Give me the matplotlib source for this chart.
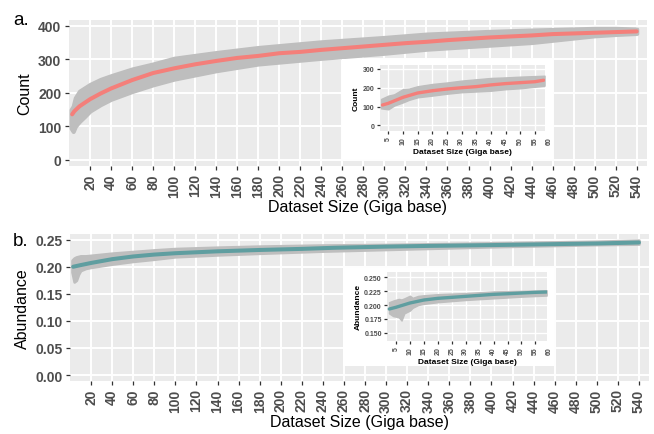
import matplotlib
matplotlib.use("Agg")
import matplotlib.pyplot as plt

plt.rcParams['font.family'] = ['Liberation Sans', 'DejaVu Sans']

# ---------------- data ----------------
# Panel a: Count vs dataset size
a_line_x = [3, 5, 10, 20, 30, 40, 60, 80, 100, 120, 140, 160, 180, 200, 220, 240, 260, 280,
            300, 320, 340, 360, 380, 400, 420, 440, 460, 480, 500, 520, 540]
a_line_y = [136, 145, 160, 181, 198, 213, 238, 259, 273, 285, 295, 304, 310, 318, 322, 328, 333, 338,
            343, 348, 352, 357, 361, 365, 368, 371, 375, 377, 379, 381, 383]
a_band_x = [2, 4, 6, 8, 10, 15, 20, 30, 40, 60, 80, 100, 140, 180, 240, 300, 340, 400, 440, 500, 520, 540]
a_band_hi = [150, 160, 185, 195, 205, 215, 225, 240, 251, 271, 286, 303, 320, 335, 352, 365, 375, 383,
             387, 392, 392, 390]
a_band_lo = [95, 85, 100, 108, 115, 130, 146, 165, 181, 204, 224, 241, 266, 286, 303, 318, 330, 342,
             350, 370, 374, 377]

# Panel a inset (0-60 Gb)
ai_line_x = [3, 5, 10, 15, 20, 25, 30, 35, 40, 45, 50, 55, 58]
ai_line_y = [108, 117, 149, 172, 184, 193, 200, 206, 215, 222, 227, 232, 240]
ai_band_x = [2.5, 5, 7, 10, 12, 15, 20, 25, 30, 35, 40, 45, 50, 55, 58.3]
ai_band_hi = [140, 158, 165, 193, 195, 208, 220, 228, 238, 245, 252, 255, 259, 262, 264]
ai_band_lo = [90, 85, 105, 122, 135, 149, 158, 168, 176, 180, 184, 192, 197, 205, 211]

# Panel b: Abundance vs dataset size
b_line_x = [3, 10, 20, 40, 60, 80, 100, 140, 180, 220, 250, 300, 340, 400, 460, 500, 540]
b_line_y = [0.200, 0.203, 0.207, 0.214, 0.219, 0.2225, 0.225, 0.2285, 0.231, 0.233, 0.235, 0.2372,
            0.2385, 0.240, 0.2418, 0.243, 0.2448]
b_band_x = [2, 4, 6, 8, 10, 15, 20, 30, 40, 60, 80, 100, 140, 180, 240, 300, 400, 500, 540]
b_band_hi = [0.212, 0.216, 0.218, 0.219, 0.220, 0.220, 0.221, 0.223, 0.225, 0.228, 0.231, 0.2335,
             0.236, 0.238, 0.240, 0.241, 0.244, 0.247, 0.249]
b_band_lo = [0.190, 0.172, 0.175, 0.186, 0.193, 0.197, 0.199, 0.202, 0.205, 0.210, 0.214, 0.2185,
             0.222, 0.225, 0.229, 0.232, 0.237, 0.241, 0.242]

# Panel b inset (0-60 Gb)
bi_line_x = [2.6, 5, 10, 15, 20, 25, 30, 35, 40, 45, 50, 55, 59]
bi_line_y = [0.1928, 0.1959, 0.2036, 0.209, 0.212, 0.2138, 0.2156, 0.2174, 0.2192, 0.2203, 0.2216,
             0.2228, 0.2234]
bi_band_x = [2.5, 4, 6, 7, 8, 10, 11, 13, 15, 20, 30, 40, 50, 59]
bi_band_hi = [0.205, 0.208, 0.211, 0.210, 0.212, 0.2168, 0.213, 0.2165, 0.2175, 0.2195, 0.2215,
              0.2245, 0.2255, 0.2265]
bi_band_lo = [0.185, 0.180, 0.178, 0.172, 0.185, 0.190, 0.195, 0.200, 0.202, 0.205, 0.209, 0.212,
              0.215, 0.217]

main_xticks = list(range(20, 541, 20))
inset_xticks = list(range(5, 61, 5))
a_yticks = [0, 100, 200, 300, 400]
ai_yticks = [0, 100, 200, 300]
b_yticks = [0.00, 0.05, 0.10, 0.15, 0.20, 0.25]
bi_yticks = [0.150, 0.175, 0.200, 0.225, 0.250]

x_title = "Dataset Size (Giga base)"

# ---------------- layout ----------------
W, H = 654, 435
fig = plt.figure(figsize=(W / 100, H / 100), dpi=100)


def box(l, t, r, b):
    return [l / W, 1 - b / H, (r - l) / W, (b - t) / H]


PANEL = "#EBEBEB"
POINTS = "#BEBEBE"
TICKC = "#4D4D4D"
RED = "#F47F7A"
TEAL = "#5F9EA0"


def style(ax, xlim, ylim, xticks, yticks, ylabels, fs, lab_fs, ylab, tick_len, gridw, inset=False):
    ax.set_facecolor(PANEL)
    for s in ax.spines.values():
        s.set_visible(False)
    ax.set_xlim(*xlim)
    ax.set_ylim(*ylim)
    vis_x = [t for t in xticks if xlim[0] <= t <= xlim[1]]
    ax.set_xticks(vis_x)
    ax.set_xticklabels([str(t) for t in vis_x], rotation=90, fontsize=fs, fontweight='bold', color=TICKC)
    ax.set_yticks(yticks)
    ax.set_yticklabels(ylabels, fontsize=fs, fontweight='bold', color=TICKC)
    pad = 1.5 if inset else 2.5
    ax.tick_params(length=tick_len, width=0.9, color="#333333", pad=pad)
    ax.grid(True, color="white", linewidth=gridw, zorder=0)
    ax.set_axisbelow(True)
    # tick labels beyond the panel range (label only, as in the reference)
    for t in xticks:
        if t > xlim[1]:
            ax.annotate(str(t), xy=(t, 0), xycoords=('data', 'axes fraction'),
                        xytext=(0, -(tick_len + pad)), textcoords='offset points',
                        rotation=90, ha='center', va='top', fontsize=fs, fontweight='bold',
                        color=TICKC, annotation_clip=False)
    if inset:
        ax.set_ylabel(ylab, fontsize=lab_fs, fontweight='bold', labelpad=2)
        ax.set_xlabel(x_title, fontsize=lab_fs, fontweight='bold', labelpad=3)
    else:
        ax.set_ylabel(ylab, fontsize=lab_fs, labelpad=4)
        ax.set_xlabel(x_title, fontsize=lab_fs, labelpad=2)


# ---- panel a ----
axa = fig.add_axes(box(69, 21, 646.7, 166.7))
axa.fill_between(a_band_x, a_band_lo, a_band_hi, color=POINTS, linewidth=3, edgecolor=POINTS, zorder=2)
axa.plot(a_line_x, a_line_y, color=RED, linewidth=2.9, solid_capstyle='round', zorder=3)
style(axa, (0, 549.5), (-17, 417), main_xticks, a_yticks, [str(v) for v in a_yticks],
      10, 11.5, "Count", 3, 1.4)

# ---- panel b ----
axb = fig.add_axes(box(70, 235, 649.3, 381.7))
axb.fill_between(b_band_x, b_band_lo, b_band_hi, color=POINTS, linewidth=2, edgecolor=POINTS, zorder=2)
axb.plot(b_line_x, b_line_y, color=TEAL, linewidth=2.9, solid_capstyle='round', zorder=3)
style(axb, (0, 549.8), (-0.0105, 0.2605), main_xticks, b_yticks, [f"{v:.2f}" for v in b_yticks],
      10, 11.5, "Abundance", 3, 1.4)

# ---- inset a ----
bga = fig.add_axes(box(341.7, 60, 552.7, 160))
bga.set_facecolor("white")
bga.set_xticks([]); bga.set_yticks([])
for s in bga.spines.values():
    s.set_visible(False)
axai = fig.add_axes(box(379.5, 66, 545, 132.3))
axai.fill_between(ai_band_x, ai_band_lo, ai_band_hi, color=POINTS, linewidth=1, edgecolor=POINTS, zorder=2)
axai.plot(ai_line_x, ai_line_y, color=RED, linewidth=2.4, solid_capstyle='round', zorder=3)
style(axai, (1.98, 58.46), (-32, 321), inset_xticks, ai_yticks, [str(v) for v in ai_yticks],
      5, 6, "Count", 2, 1.0, inset=True)

# ---- inset b ----
bgb = fig.add_axes(box(342.7, 268.5, 554, 366.7))
bgb.set_facecolor("white")
bgb.set_xticks([]); bgb.set_yticks([])
for s in bgb.spines.values():
    s.set_visible(False)
axbi = fig.add_axes(box(386.7, 272.5, 547.3, 342.3))
axbi.fill_between(bi_band_x, bi_band_lo, bi_band_hi, color=POINTS, linewidth=1, edgecolor=POINTS, zorder=2)
axbi.plot(bi_line_x, bi_line_y, color=TEAL, linewidth=2.4, solid_capstyle='round', zorder=3)
style(axbi, (1.68, 59.25), (0.1347, 0.2603), inset_xticks, bi_yticks, [f"{v:.3f}" for v in bi_yticks],
      5, 6, "Abundance", 2, 1.0, inset=True)

# panel letters
fig.text(13 / W, 1 - 25 / H, "a.", fontsize=13.5, ha='left', va='baseline')
fig.text(13 / W, 1 - 246 / H, "b.", fontsize=13.5, ha='left', va='baseline')

fig.savefig("out.png", dpi=100)
